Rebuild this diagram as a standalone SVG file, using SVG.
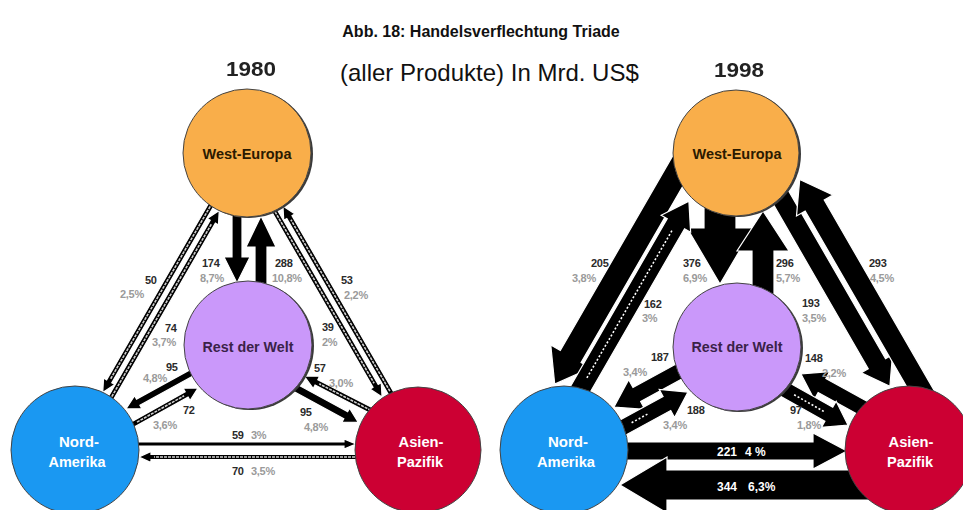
<svg xmlns="http://www.w3.org/2000/svg" width="963" height="510" viewBox="0 0 963 510">
  <defs>
    <style>
      .ttl { font-family: "Liberation Sans", Arial, sans-serif; font-weight: bold; font-size: 16px; fill: #111; }
      .sub { font-family: "Liberation Sans", Arial, sans-serif; font-size: 24px; fill: #111; }
      .yr { font-family: "Liberation Sans", Arial, sans-serif; font-weight: bold; font-size: 21px; fill: #222; }
      .nl { font-family: "Liberation Sans", Arial, sans-serif; font-weight: bold; font-size: 14px; text-anchor: middle; }
      .num { font-family: "Liberation Sans", Arial, sans-serif; font-weight: bold; font-size: 11px; fill: #2a2a2a; letter-spacing: -0.3px; }
      .pct { font-family: "Liberation Sans", Arial, sans-serif; font-weight: bold; font-size: 11px; fill: #9a9a9a; letter-spacing: -0.3px; }
      .wtx { font-family: "Liberation Sans", Arial, sans-serif; font-weight: bold; font-size: 12px; fill: #fff; }
      .ar { fill: #000; stroke: #fff; stroke-width: 1.2; stroke-linejoin: miter; }
      .ha { stroke: #cfcfcf; stroke-width: 1.6; stroke-dasharray: 3 1; fill: none; }
      .hb { stroke: #fff; stroke-width: 1.6; stroke-dasharray: 2 2; fill: none; }
      .sh { fill: #3a3a3a; }
      .ce { stroke: #444; stroke-width: 1; }
    </style>
    <filter id="soft" x="-10%" y="-20%" width="120%" height="140%">
      <feGaussianBlur stdDeviation="0.6"/>
    </filter>
  </defs>

  <rect width="963" height="510" fill="#fff"/>

  <!-- headings -->
  <text class="ttl" x="481" y="37" text-anchor="middle">Abb. 18: Handelsverflechtung Triade</text>
  <text class="sub" x="340" y="81">(aller Produkte) In Mrd. US$</text>
  <text class="yr" x="251" y="76" text-anchor="middle" textLength="50" lengthAdjust="spacingAndGlyphs" filter="url(#soft)">1980</text>
  <text class="yr" x="739" y="77" text-anchor="middle" textLength="50" lengthAdjust="spacingAndGlyphs" filter="url(#soft)">1998</text>

  <!-- trade flows -->
  <g id="connectors">
    <!-- 1980 -->
    <g id="c1980">
      <polygon class="ar" transform="translate(237,205) rotate(90)" points="0,-5 52,-5 52,-13 78,0 52,13 52,5 0,5"/>
      <polygon class="ar" transform="translate(261,292) rotate(-90)" points="0,-6 45,-6 45,-15 76,0 45,15 45,6 0,6"/>
      <g transform="translate(213.2,201.2) rotate(120)">
        <polygon class="ar" points="0,-3 208,-3 208,-6.5 221,0 208,6.5 208,3 0,3"/>
        <line class="ha" x1="6" y1="0" x2="205" y2="0"/>
      </g>
      <g transform="translate(108.8,401.8) rotate(-60)">
        <polygon class="ar" points="0,-3 208,-3 208,-6.5 221,0 208,6.5 208,3 0,3"/>
        <line class="ha" x1="6" y1="0" x2="205" y2="0"/>
      </g>
      <g transform="translate(392.9,396.4) rotate(-120)">
        <polygon class="ar" points="0,-3 207,-3 207,-6.5 220,0 207,6.5 207,3 0,3"/>
        <line class="ha" x1="6" y1="0" x2="204" y2="0"/>
      </g>
      <g transform="translate(272.1,206.6) rotate(60)">
        <polygon class="ar" points="0,-3 207,-3 207,-6.5 220,0 207,6.5 207,3 0,3"/>
        <line class="ha" x1="6" y1="0" x2="204" y2="0"/>
      </g>
      <g transform="translate(130,444)">
        <polygon class="ar" points="0,-2 214,-2 214,-5 226,0 214,5 214,2 0,2"/>
      </g>
      <g transform="translate(365,457) rotate(180)">
        <polygon class="ar" points="0,-2.5 214,-2.5 214,-5.5 226,0 214,5.5 214,2.5 0,2.5"/>
        <line class="ha" x1="6" y1="0" x2="211" y2="0" style="stroke-width:1.3"/>
      </g>
      <polygon class="ar" transform="translate(195,371) rotate(151.2)" points="0,-3.5 64.8,-3.5 64.8,-7.5 78.8,0 64.8,7.5 64.8,3.5 0,3.5"/>
      <g transform="translate(130,426) rotate(-29.2)">
        <polygon class="ar" points="0,-3 64.9,-3 64.9,-7 77.9,0 64.9,7 64.9,3 0,3"/>
        <line class="ha" x1="8" y1="0" x2="62" y2="0"/>
      </g>
      <g transform="translate(378,414) rotate(-152.8)">
        <polygon class="ar" points="0,-3 69.2,-3 69.2,-7 83.2,0 69.2,7 69.2,3 0,3"/>
        <line class="ha" x1="8" y1="0" x2="66" y2="0"/>
      </g>
      <polygon class="ar" transform="translate(292,386) rotate(28.6)" points="0,-4 61.2,-4 61.2,-8 75.2,0 61.2,8 61.2,4 0,4"/>
    </g>

    <!-- 1998 -->
    <g id="c1998">
      <polygon class="ar" transform="translate(720,200) rotate(90)" points="0,-16 28,-16 28,-33 84,0 28,33 28,16 0,16"/>
      <polygon class="ar" transform="translate(763,295) rotate(-90)" points="0,-11 44,-11 44,-26 84,0 44,26 44,11 0,11"/>
      <polygon class="ar" transform="translate(683.2,161.6) rotate(120)" points="0,-12 225,-12 225,-23 257,0 225,23 225,12 0,12"/>
      <g transform="translate(576.9,395.2) rotate(-60)">
        <polygon class="ar" points="0,-10 198,-10 198,-17 224,0 198,17 198,10 0,10"/>
        <line class="hb" x1="20" y1="0" x2="190" y2="0"/>
      </g>
      <polygon class="ar" transform="translate(779.4,194.9) rotate(60)" points="0,-10 195,-10 195,-18 221,0 195,18 195,10 0,10"/>
      <polygon class="ar" transform="translate(926.2,398.6) rotate(-120)" points="0,-11 223,-11 223,-21 253,0 223,21 223,11 0,11"/>
      <polygon class="ar" transform="translate(700,360) rotate(151.35)" points="0,-8 72,-8 72,-17 98,0 72,17 72,8 0,8"/>
      <g transform="translate(600,440) rotate(-28.6)">
        <polygon class="ar" points="0,-8 76.2,-8 76.2,-16 100.2,0 76.2,16 76.2,8 0,8"/>
        <line class="hb" x1="36" y1="0" x2="56" y2="0"/>
      </g>
      <polygon class="ar" transform="translate(870,412) rotate(-151.16)" points="0,-8 54.8,-8 54.8,-16 78.8,0 54.8,16 54.8,8 0,8"/>
      <g transform="translate(768,380) rotate(29.4)">
        <polygon class="ar" points="0,-8 69.8,-8 69.8,-15 91.8,0 69.8,15 69.8,8 0,8"/>
        <line class="hb" x1="30" y1="0" x2="64" y2="0"/>
      </g>
      <polygon class="ar" transform="translate(600,451)" points="0,-9 213,-9 213,-18 247,0 213,18 213,9 0,9"/>
      <polygon class="ar" transform="translate(930,485) rotate(180)" points="0,-15 263,-15 263,-28 310,0 263,28 263,15 0,15"/>
    </g>
  </g>

  <!-- regions 1980 -->
  <g id="we1980">
    <circle class="sh" cx="249" cy="154" r="64"/>
    <circle class="ce" cx="247" cy="153" r="64" fill="#F9AE4A"/>
    <text class="nl" x="247" y="159" fill="#2b1a00" textLength="89" lengthAdjust="spacingAndGlyphs">West-Europa</text>
  </g>
  <g id="rw1980">
    <circle class="sh" cx="250" cy="346" r="64"/>
    <circle class="ce" cx="248" cy="345" r="64" fill="#CA98FA"/>
    <text class="nl" x="248" y="352" fill="#3a2248" textLength="91" lengthAdjust="spacingAndGlyphs">Rest der Welt</text>
  </g>
  <g id="na1980">
    <circle class="ce" cx="75" cy="450" r="64" fill="#1A98F2"/>
    <text class="nl" x="79" y="447" fill="#fff" textLength="40" lengthAdjust="spacingAndGlyphs">Nord-</text>
    <text class="nl" x="77" y="467" fill="#fff" textLength="57" lengthAdjust="spacingAndGlyphs">Amerika</text>
  </g>
  <g id="ap1980">
    <circle class="ce" cx="418" cy="450" r="63" fill="#CC0033"/>
    <text class="nl" x="421" y="447" fill="#fff" textLength="45" lengthAdjust="spacingAndGlyphs">Asien-</text>
    <text class="nl" x="420" y="467" fill="#fff" textLength="46" lengthAdjust="spacingAndGlyphs">Pazifik</text>
  </g>

  <!-- regions 1998 -->
  <g id="we1998">
    <circle class="sh" cx="738" cy="154" r="63"/>
    <circle class="ce" cx="736" cy="153" r="63" fill="#F9AE4A"/>
    <text class="nl" x="737" y="159" fill="#2b1a00" textLength="89" lengthAdjust="spacingAndGlyphs">West-Europa</text>
  </g>
  <g id="rw1998">
    <circle class="sh" cx="739" cy="348" r="64"/>
    <circle class="ce" cx="737" cy="347" r="64" fill="#CA98FA"/>
    <text class="nl" x="737" y="352" fill="#3a2248" textLength="91" lengthAdjust="spacingAndGlyphs">Rest der Welt</text>
  </g>
  <g id="na1998">
    <circle class="ce" cx="564" cy="450" r="64" fill="#1A98F2"/>
    <text class="nl" x="568" y="447" fill="#fff" textLength="40" lengthAdjust="spacingAndGlyphs">Nord-</text>
    <text class="nl" x="566" y="467" fill="#fff" textLength="58" lengthAdjust="spacingAndGlyphs">Amerika</text>
  </g>
  <g id="ap1998">
    <circle class="ce" cx="909" cy="450" r="64" fill="#CC0033"/>
    <text class="nl" x="911" y="447" fill="#fff" textLength="45" lengthAdjust="spacingAndGlyphs">Asien-</text>
    <text class="nl" x="910" y="467" fill="#fff" textLength="46" lengthAdjust="spacingAndGlyphs">Pazifik</text>
  </g>

  <!-- flow values 1980 -->
  <g id="labels1980">
    <text class="num" x="145" y="284">50</text><text class="pct" x="120" y="298">2,5%</text>
    <text class="num" x="165" y="332">74</text><text class="pct" x="152" y="346">3,7%</text>
    <text class="num" x="202" y="267">174</text><text class="pct" x="200" y="282">8,7%</text>
    <text class="num" x="275" y="267">288</text><text class="pct" x="272" y="282">10,8%</text>
    <text class="num" x="341" y="284">53</text><text class="pct" x="344" y="299">2,2%</text>
    <text class="num" x="322" y="331">39</text><text class="pct" x="322" y="346">2%</text>
    <text class="num" x="166" y="371">95</text><text class="pct" x="143" y="382">4,8%</text>
    <text class="num" x="183" y="414">72</text><text class="pct" x="153" y="429">3,6%</text>
    <text class="num" x="314" y="372">57</text><text class="pct" x="329" y="387">3,0%</text>
    <text class="num" x="300" y="416">95</text><text class="pct" x="304" y="431">4,8%</text>
    <text class="num" x="232" y="439">59</text><text class="pct" x="251" y="439">3%</text>
    <text class="num" x="232" y="475">70</text><text class="pct" x="251" y="475">3,5%</text>
  </g>

  <!-- flow values 1998 -->
  <g id="labels1998">
    <text class="num" x="591" y="267">205</text><text class="pct" x="572" y="282">3,8%</text>
    <text class="num" x="644" y="308">162</text><text class="pct" x="642" y="322">3%</text>
    <text class="num" x="683" y="267">376</text><text class="pct" x="683" y="282">6,9%</text>
    <text class="num" x="776" y="267">296</text><text class="pct" x="776" y="282">5,7%</text>
    <text class="num" x="869" y="267">293</text><text class="pct" x="870" y="282">4,5%</text>
    <text class="num" x="802" y="307">193</text><text class="pct" x="802" y="322">3,5%</text>
    <text class="num" x="651" y="361">187</text><text class="pct" x="623" y="376">3,4%</text>
    <text class="num" x="805" y="362">148</text><text class="pct" x="822" y="377">2,2%</text>
    <text class="num" x="687" y="414">188</text><text class="pct" x="663" y="429">3,4%</text>
    <text class="num" x="790" y="414">97</text><text class="pct" x="797" y="429">1,8%</text>
    <text class="wtx" x="717" y="456">221</text><text class="wtx" x="745" y="456">4 %</text>
    <text class="wtx" x="717" y="491">344</text><text class="wtx" x="748" y="491">6,3%</text>
  </g>
</svg>
